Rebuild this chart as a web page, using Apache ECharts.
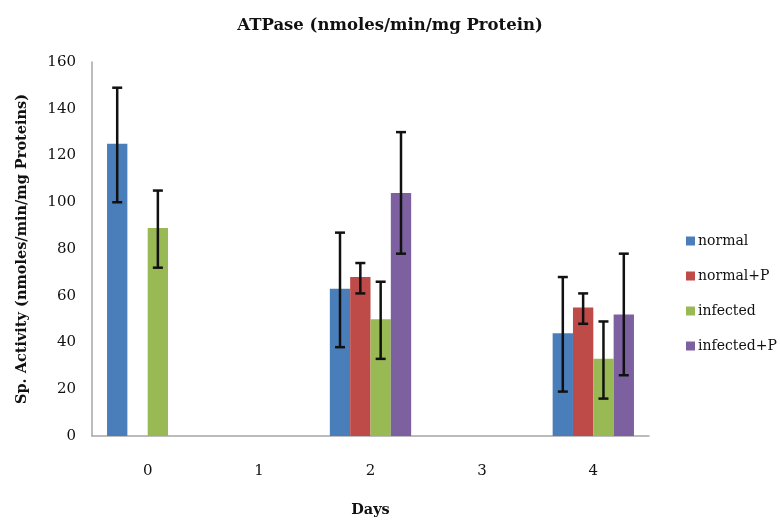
<!DOCTYPE html>
<html>
<head>
<meta charset="utf-8">
<script src="https://cdn.jsdelivr.net/npm/echarts@6/dist/echarts.min.js"></script>
<style>
  html, body { margin: 0; padding: 0; background: #fff; }
  #main { width: 780px; height: 523px; }
</style>
</head>
<body>
<div id="main"></div>
<script>
var days = ['0', '1', '2', '3', '4'];
var seriesNames = ['normal', 'normal+P', 'infected', 'infected+P'];
var colors = ['#4a7ebb', '#be4b48', '#98b954', '#7d60a0'];

var normal = [125, null, 63, null, 44];
var normalLow = [100, null, 38, null, 19];
var normalHigh = [149, null, 87, null, 68];

var normalP = [null, null, 68, null, 55];
var normalPLow = [null, null, 61, null, 48];
var normalPHigh = [null, null, 74, null, 61];

var infected = [89, null, 50, null, 33];
var infectedLow = [72, null, 33, null, 16];
var infectedHigh = [105, null, 66, null, 49];

var infectedP = [null, null, 104, null, 52];
var infectedPLow = [null, null, 78, null, 26];
var infectedPHigh = [null, null, 130, null, 78];

var values = [normal, normalP, infected, infectedP];
var lows = [normalLow, normalPLow, infectedLow, infectedPLow];
var highs = [normalHigh, normalPHigh, infectedHigh, infectedPHigh];

var FONT = 'DejaVu Serif';
var catGap = 0.27;

var series = [];
values.forEach(function (vals, i) {
  series.push({
    name: seriesNames[i],
    type: 'bar',
    data: vals,
    itemStyle: { color: colors[i] },
    barGap: '0%',
    barCategoryGap: '27%'
  });
});

// error bars, one custom series per group
values.forEach(function (vals, i) {
  var data = [];
  for (var k = 0; k < days.length; k++) {
    if (vals[k] != null) data.push([k, lows[i][k], highs[i][k]]);
  }
  series.push({
    type: 'custom',
    name: seriesNames[i] + ' err',
    data: data,
    z: 10,
    silent: true,
    renderItem: function (params, api) {
      var x = api.value(0);
      var lo = api.coord([x, api.value(1)]);
      var hi = api.coord([x, api.value(2)]);
      var band = api.size([1, 0])[0];
      var barW = band * (1 - catGap) / 4;
      var cx = lo[0] + (i - 1.5) * barW;
      var cap = 5;
      var style = { stroke: '#111', lineWidth: 2.5, fill: null };
      return {
        type: 'group',
        children: [
          { type: 'line', shape: { x1: cx, y1: hi[1], x2: cx, y2: lo[1] }, style: style },
          { type: 'line', shape: { x1: cx - cap, y1: hi[1], x2: cx + cap, y2: hi[1] }, style: style },
          { type: 'line', shape: { x1: cx - cap, y1: lo[1], x2: cx + cap, y2: lo[1] }, style: style }
        ]
      };
    }
  });
});

var chart = echarts.init(document.getElementById('main'));
chart.setOption({
  animation: false,
  backgroundColor: '#fff',
  title: {
    text: 'ATPase (nmoles/min/mg Protein)',
    left: 'center',
    top: 12,
    textStyle: { fontFamily: FONT, fontSize: 16.5, fontWeight: 'bold', color: '#111' }
  },
  legend: {
    data: seriesNames,
    orient: 'vertical',
    left: 681,
    top: 229,
    itemWidth: 9,
    itemHeight: 9,
    itemGap: 21,
    icon: 'rect',
    textStyle: { fontFamily: FONT, fontSize: 14, color: '#111', padding: [0, 0, 0, -2] }
  },
  grid: { left: 92, right: 131, top: 62, bottom: 82 },
  xAxis: {
    type: 'category',
    data: days,
    name: 'Days',
    nameLocation: 'middle',
    nameGap: 67,
    nameTextStyle: { fontFamily: FONT, fontSize: 14.5, fontWeight: 'bold', color: '#111' },
    axisLine: { lineStyle: { color: '#a6a6a6', width: 1.5 } },
    axisTick: { show: false },
    axisLabel: { fontFamily: FONT, fontSize: 15, color: '#111', margin: 28 }
  },
  yAxis: {
    type: 'value',
    min: 0,
    max: 160,
    interval: 20,
    name: 'Sp. Activity (nmoles/min/mg Proteins)',
    nameLocation: 'middle',
    nameGap: 62,
    nameTextStyle: { fontFamily: FONT, fontSize: 14.5, fontWeight: 'bold', color: '#111' },
    axisLine: { show: true, lineStyle: { color: '#a6a6a6', width: 1.5 } },
    axisTick: { show: false },
    splitLine: { show: false },
    axisLabel: { fontFamily: FONT, fontSize: 15, color: '#111', margin: 16 }
  },
  series: series
});
</script>
</body>
</html>
